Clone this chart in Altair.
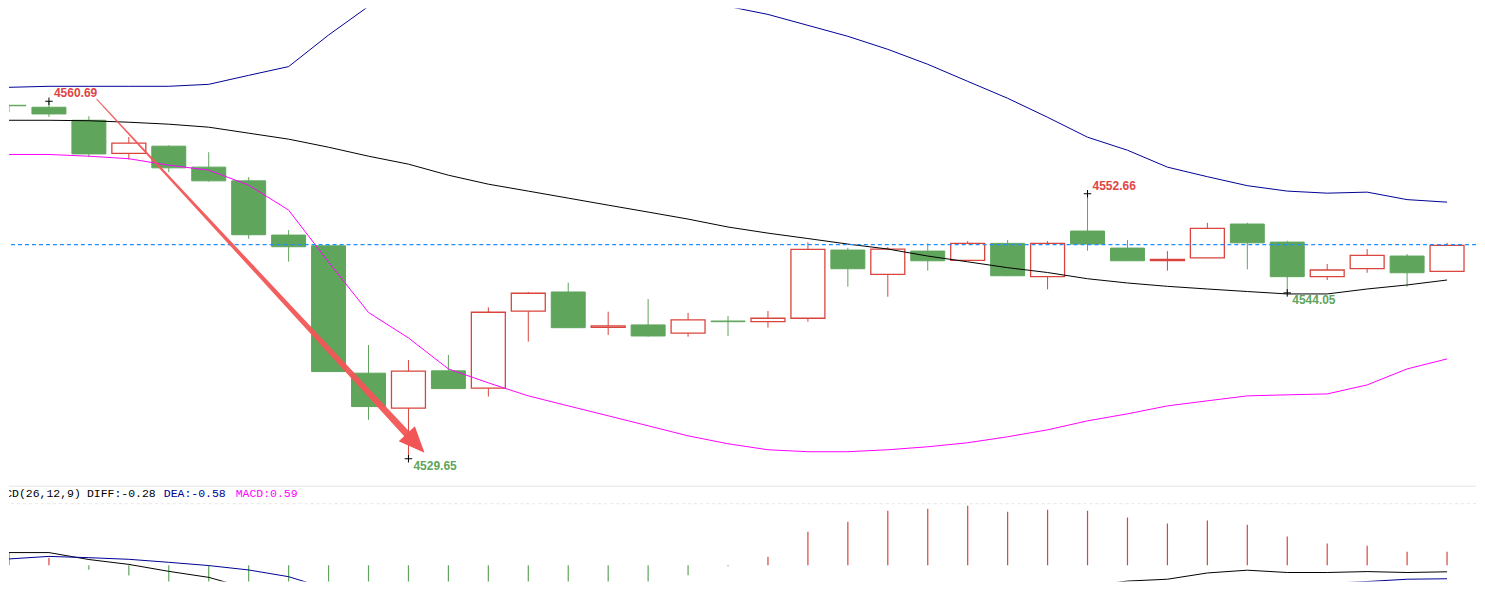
import altair as alt
import pandas as pd

# ---------------- data ----------------
idx = list(range(37))
open_ = [4560.34, 4560.17, 4559.04, 4556.16, 4556.79, 4554.97, 4553.78, 4549.07, 4548.14, 4537.08,
         4534.04, 4537.28, 4535.78, 4542.46, 4544.13, 4541.05, 4541.27, 4540.55, 4541.61, 4541.55,
         4541.85, 4547.77, 4545.66, 4547.68, 4546.88, 4548.35, 4545.46, 4549.42, 4547.94, 4546.86,
         4547.10, 4550.03, 4548.46, 4545.46, 4546.15, 4547.25, 4545.92]
high = [4560.34, 4560.69, 4559.39, 4557.59, 4556.87, 4556.27, 4554.10, 4549.50, 4548.20, 4539.53,
        4538.23, 4538.67, 4542.80, 4544.13, 4544.94, 4542.42, 4543.52, 4542.31, 4542.05, 4542.48,
        4548.44, 4547.97, 4548.03, 4548.35, 4548.55, 4548.64, 4548.55, 4552.66, 4548.64, 4547.68,
        4550.14, 4550.14, 4548.58, 4546.56, 4547.86, 4547.42, 4548.40]
low = [4559.74, 4559.33, 4555.83, 4555.63, 4554.53, 4553.71, 4548.75, 4546.76, 4537.19, 4533.03,
       4529.65, 4535.72, 4535.05, 4539.82, 4541.01, 4540.40, 4540.25, 4540.25, 4540.31, 4541.03,
       4541.55, 4544.59, 4543.72, 4545.98, 4546.82, 4545.51, 4544.36, 4547.71, 4546.82, 4545.98,
       4547.08, 4546.10, 4544.05, 4545.17, 4545.80, 4544.59, 4545.92]
close = [4560.30, 4559.59, 4556.12, 4557.05, 4554.91, 4553.78, 4549.10, 4548.06, 4537.22, 4534.18,
         4537.25, 4535.74, 4542.37, 4544.02, 4541.03, 4541.18, 4540.31, 4541.70, 4541.55, 4541.85,
         4547.83, 4546.15, 4547.86, 4546.84, 4548.35, 4545.54, 4548.35, 4548.29, 4546.84, 4546.95,
         4549.65, 4548.40, 4545.46, 4546.04, 4547.31, 4545.80, 4548.18]

boll_mid = [4559.04, 4559.04, 4559.00, 4558.87, 4558.70, 4558.44, 4557.92, 4557.40, 4556.70, 4555.92,
            4555.23, 4554.27, 4553.49, 4552.89, 4552.28, 4551.67, 4551.07, 4550.46, 4549.77, 4549.24,
            4548.77, 4548.29, 4547.86, 4547.25, 4546.75, 4546.24, 4545.82, 4545.28, 4544.91, 4544.62,
            4544.39, 4544.17, 4543.96, 4543.96, 4544.39, 4544.74, 4545.17]
boll_up = [4561.90, 4561.99, 4561.99, 4561.99, 4561.99, 4562.16, 4562.94, 4563.70, 4566.44, 4568.93,
           4570.31, 4570.92, 4571.10, 4571.01, 4570.75, 4570.31, 4569.80, 4569.32, 4568.93, 4568.23,
           4567.28, 4566.33, 4565.20, 4563.90, 4562.42, 4560.95, 4559.30, 4557.57, 4556.44, 4554.97,
           4554.14, 4553.36, 4552.89, 4552.71, 4552.80, 4552.15, 4551.93]
boll_low = [4556.07, 4556.07, 4555.92, 4555.70, 4555.14, 4554.71, 4553.41, 4551.24, 4546.73, 4542.35,
            4540.14, 4537.45, 4536.24, 4535.11, 4534.24, 4533.38, 4532.51, 4531.64, 4530.95, 4530.43,
            4530.26, 4530.26, 4530.43, 4530.69, 4531.04, 4531.56, 4532.16, 4532.94, 4533.55, 4534.24,
            4534.68, 4535.11, 4535.20, 4535.28, 4536.06, 4537.45, 4538.32]
last_price = [4548.25]

diff = [0.55, 0.55, 0.25, 0.04, -0.26, -0.52, -1.00, -1.69, -2.60, -3.15,
        -3.50, -3.70, -3.80, -3.85, -3.85, -3.80, -3.695, -3.495, -3.33, -3.13,
        -2.545, -2.23, -1.85, -1.65, -1.395, -1.315, -1.07, -0.90, -0.68, -0.60,
        -0.33, -0.21, -0.31, -0.31, -0.27, -0.31, -0.28]
dea = [0.275, 0.385, 0.33, 0.26, 0.13, -0.01, -0.20, -0.49, -1.02, -1.45,
       -1.85, -2.20, -2.50, -2.75, -2.95, -3.10, -3.20, -3.28, -3.31, -3.32,
       -3.27, -3.17, -3.03, -2.87, -2.68, -2.47, -2.27, -2.08, -1.71, -1.50,
       -1.305, -1.085, -0.93, -0.78, -0.70, -0.60, -0.58]
macd = [0.55, 0.33, -0.19, -0.44, -0.83, -1.02, -1.60, -2.40, -3.20, -3.40,
        -3.30, -3.00, -2.60, -2.20, -1.80, -1.40, -0.99, -0.43, -0.04, 0.375,
        1.45, 1.88, 2.36, 2.44, 2.57, 2.31, 2.40, 2.36, 2.06, 1.80,
        1.93, 1.75, 1.24, 0.94, 0.85, 0.59, 0.59]

# extreme-value annotations
hi_x = [1, 27]
hi_y = [4560.69, 4552.66]
hi_txt = ["4560.69", "4552.66"]
lo_x = [10, 32]
lo_y = [4529.65, 4544.05]
lo_txt = ["4529.65", "4544.05"]

# hand-drawn arrow
arrow_x = [2.2, 10.05]
arrow_y = [4560.86, 4531.47]
arrow_w = [1, 7]
head_x = [10.18]
head_y = [4530.99]

# MACD header
hdr_x = [1.95, 3.875, 5.675]
hdr_txt = ["DIFF:-0.28", "DEA:-0.58", "MACD:0.59"]
hdr_col = ["#000000", "#000096", "#FF00FF"]
hdr_title_x = [1.8]
hdr_title = ["MACD(26,12,9)"]
hdr_y = 3.07
pane_rules = [3.415, 2.66]

# ---------------- styling ----------------
RED = "#D9443D"
GREEN = "#5FA55C"
W = 1469
H_TOP = 477
H_BOT = 96
X_DOMAIN = [0, 36.725]
P_DOMAIN = [4527.393, 4568.754]
M_DOMAIN = [-0.703, 3.435]

xs = alt.Scale(domain=X_DOMAIN, nice=False, zero=False, padding=0)
ps = alt.Scale(domain=P_DOMAIN, nice=False, zero=False, padding=0)
ms = alt.Scale(domain=M_DOMAIN, nice=False, zero=False, padding=0)

df = pd.DataFrame({"i": idx, "open": open_, "high": high, "low": low, "close": close,
                   "mid": boll_mid, "up": boll_up, "lo": boll_low,
                   "diff": diff, "dea": dea, "macd": macd})
df["dir"] = ["up" if c >= o else "down" for o, c in zip(open_, close)]
df["hsign"] = ["pos" if m >= 0 else "neg" for m in macd]

X = alt.X("i:Q", scale=xs, axis=None)
dir_color = alt.Color("dir:N", scale=alt.Scale(domain=["up", "down"], range=[RED, GREEN]), legend=None)

base = alt.Chart(df)

wicks = base.mark_rule(strokeWidth=1, clip=True).encode(
    x=X, y=alt.Y("low:Q", scale=ps, axis=None), y2="high:Q", color=dir_color)

bodies_up = base.transform_filter(alt.datum.dir == "up").mark_bar(
    size=34, orient="vertical", fill="white", stroke=RED, strokeWidth=1.3, clip=True).encode(
    x=X, y=alt.Y("open:Q", scale=ps, axis=None), y2="close:Q")

bodies_dn = base.transform_filter(alt.datum.dir == "down").mark_bar(
    size=34, orient="vertical", fill=GREEN, stroke=GREEN, strokeWidth=1, clip=True).encode(
    x=X, y=alt.Y("open:Q", scale=ps, axis=None), y2="close:Q")

def band(field, color):
    return base.mark_line(color=color, strokeWidth=1, clip=True).encode(
        x=X, y=alt.Y(f"{field}:Q", scale=ps, axis=None))

mid_line = band("mid", "#000000")
up_line = band("up", "#000096")
low_line = band("lo", "#FF00FF")

last_line = alt.Chart(pd.DataFrame({"p": last_price})).mark_rule(
    color="#1E90FF", strokeDash=[4, 3], strokeWidth=1.2, opacity=1).encode(
    y=alt.Y("p:Q", scale=ps, axis=None))

arrow_df = pd.DataFrame({"x": arrow_x, "y": arrow_y, "w": arrow_w})
arrow = alt.Chart(arrow_df).mark_trail(color="#F25555", opacity=0.95, clip=True).encode(
    x=alt.X("x:Q", scale=xs, axis=None), y=alt.Y("y:Q", scale=ps, axis=None),
    size=alt.Size("w:Q", scale=None, legend=None))
head = alt.Chart(pd.DataFrame({"x": head_x, "y": head_y})).mark_point(
    shape="M0,-1L0.85,1L-0.85,1Z", filled=True, color="#F25555", opacity=1,
    size=676, angle=137).encode(
    x=alt.X("x:Q", scale=xs, axis=None), y=alt.Y("y:Q", scale=ps, axis=None))

hi_df = pd.DataFrame({"x": hi_x, "y": hi_y, "t": hi_txt})
lo_df = pd.DataFrame({"x": lo_x, "y": lo_y, "t": lo_txt})
cross_shape = "M-1,0L1,0M0,-1L0,1"
crosses = alt.Chart(pd.concat([hi_df, lo_df])).mark_point(
    shape=cross_shape, filled=False, color="#000000", strokeWidth=1, size=56, opacity=1).encode(
    x=alt.X("x:Q", scale=xs, axis=None), y=alt.Y("y:Q", scale=ps, axis=None))
hi_text = alt.Chart(hi_df).mark_text(
    align="left", baseline="middle", dx=5, dy=-8, font="Liberation Sans", fontSize=12,
    fontWeight="bold", color="#E04545").encode(
    x=alt.X("x:Q", scale=xs, axis=None), y=alt.Y("y:Q", scale=ps, axis=None), text="t:N")
lo_text = alt.Chart(lo_df).mark_text(
    align="left", baseline="middle", dx=5, dy=7.5, font="Liberation Sans", fontSize=12,
    fontWeight="bold", color="#5FA55C").encode(
    x=alt.X("x:Q", scale=xs, axis=None), y=alt.Y("y:Q", scale=ps, axis=None), text="t:N")

top = alt.layer(wicks, bodies_up, bodies_dn, mid_line, up_line, low_line, last_line,
                arrow, head, crosses, hi_text, lo_text).properties(width=W, height=H_TOP)

# ---------------- MACD pane ----------------
hist_color = alt.Color("hsign:N", scale=alt.Scale(domain=["pos", "neg"], range=["#E0423B", "#5FAA55"]),
                       legend=None)
hist = base.mark_rule(strokeWidth=1.2, clip=True).encode(
    x=X, y=alt.Y("macd:Q", scale=ms, axis=None), y2=alt.Y2(datum=0), color=hist_color)
diff_line = base.mark_line(color="#000000", strokeWidth=1, clip=True).encode(
    x=X, y=alt.Y("diff:Q", scale=ms, axis=None))
dea_line = base.mark_line(color="#000096", strokeWidth=1, clip=True).encode(
    x=X, y=alt.Y("dea:Q", scale=ms, axis=None))

rules_df = pd.DataFrame({"y": pane_rules, "kind": ["solid", "dash"]})
sep_solid = alt.Chart(rules_df).transform_filter(alt.datum.kind == "solid").mark_rule(
    color="#E6E6E6", strokeWidth=1).encode(y=alt.Y("y:Q", scale=ms, axis=None))
sep_dash = alt.Chart(rules_df).transform_filter(alt.datum.kind == "dash").mark_rule(
    color="#E6E6E6", strokeWidth=1, strokeDash=[3, 3]).encode(y=alt.Y("y:Q", scale=ms, axis=None))

hdr_df = pd.DataFrame({"x": hdr_x, "t": hdr_txt, "c": hdr_col, "y": [hdr_y] * 3})
hdr = alt.Chart(hdr_df).mark_text(
    align="left", baseline="middle", font="Liberation Mono", fontSize=11.5).encode(
    x=alt.X("x:Q", scale=xs, axis=None), y=alt.Y("y:Q", scale=ms, axis=None),
    text="t:N", color=alt.Color("c:N", scale=None))
hdr0 = alt.Chart(pd.DataFrame({"x": hdr_title_x, "t": hdr_title, "y": [hdr_y]})).mark_text(
    align="right", baseline="middle", font="Liberation Mono", fontSize=11.5, color="#000000",
    clip=True).encode(
    x=alt.X("x:Q", scale=xs, axis=None), y=alt.Y("y:Q", scale=ms, axis=None), text="t:N")

bottom = alt.layer(sep_solid, sep_dash, hist, diff_line, dea_line, hdr, hdr0).properties(
    width=W, height=H_BOT)

chart = alt.vconcat(top, bottom, spacing=0).properties(padding=0).configure_view(
    stroke=None).configure_concat(spacing=0)

chart.save("out.html", embed_options={"renderer": "svg", "actions": False})
